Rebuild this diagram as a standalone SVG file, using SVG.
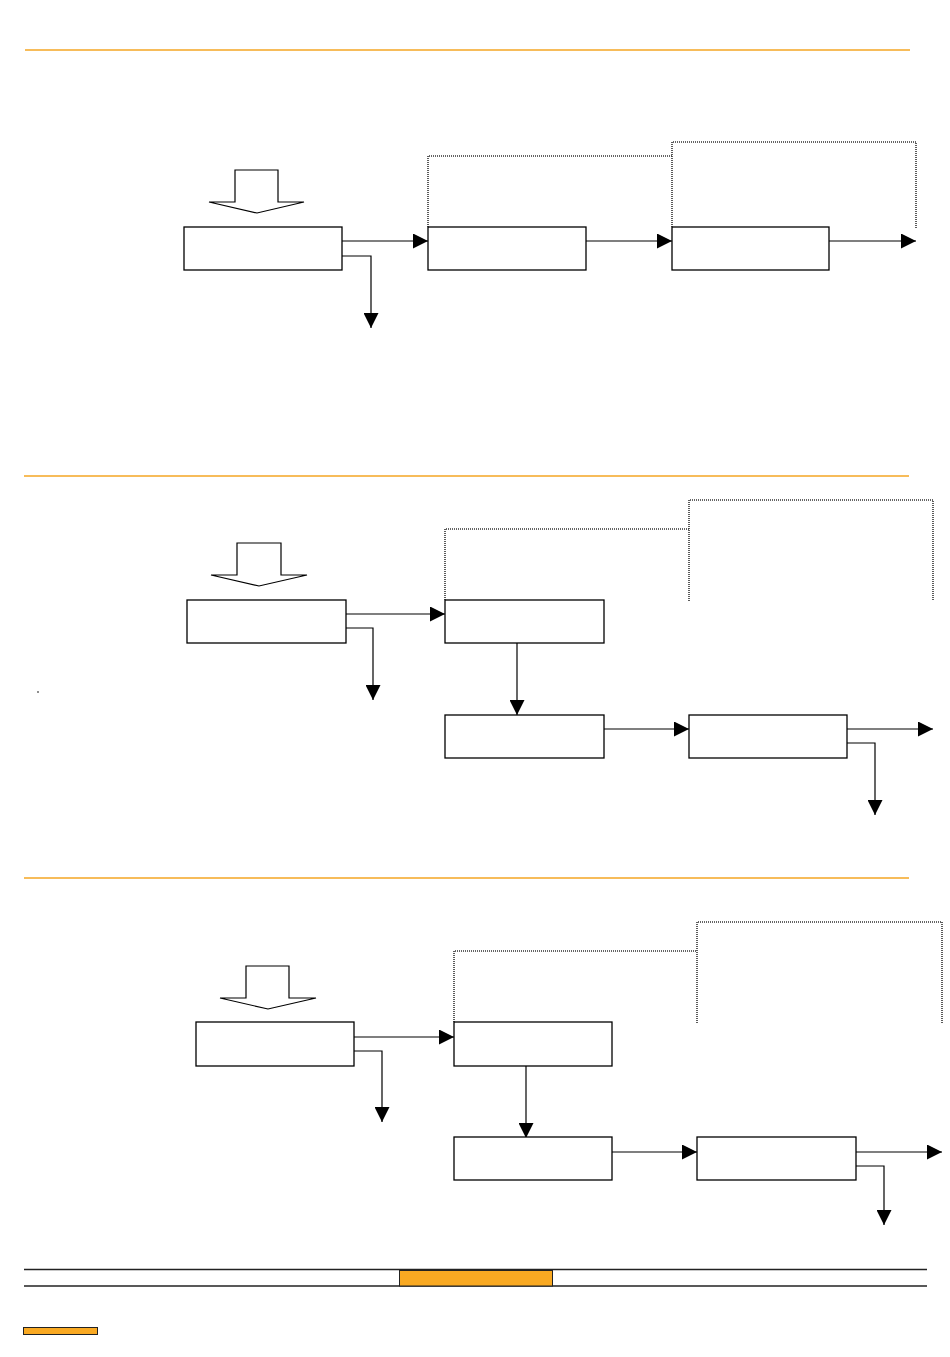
<svg xmlns="http://www.w3.org/2000/svg" width="950" height="1357" viewBox="0 0 950 1357">
<style>
.box{fill:#fff;stroke:#000;stroke-width:1.3}
.ln{fill:none;stroke:#000;stroke-width:1.2}
.dot{fill:none;stroke:#333;stroke-width:1.6;stroke-dasharray:1 1}
.orn{stroke:#F5A623;stroke-width:1.7}
.blk{fill:#fff;stroke:#000;stroke-width:1.2}
</style>
<defs>
<marker id="ah" viewBox="0 0 15 15" refX="15" refY="7.5" markerWidth="15" markerHeight="15" markerUnits="userSpaceOnUse" orient="auto">
<path d="M0,0 L15,7.5 L0,15 Z" fill="#000"/>
</marker>
</defs>
<rect width="950" height="1357" fill="#fff"/>
<g id="rules">
<line class="orn" x1="25" y1="50" x2="910" y2="50"/>
<line class="orn" x1="24" y1="476" x2="909" y2="476"/>
<line class="orn" x1="24" y1="878" x2="909" y2="878"/>
</g>
<g id="connectors">
<polyline class="dot" points="428,227 428,156 672,156"/>
<polyline class="dot" points="672,227 672,142 916,142 916,228"/>
<line class="ln" x1="342" y1="241" x2="428" y2="241" marker-end="url(#ah)"/>
<polyline class="ln" points="342,256 371,256 371,328" marker-end="url(#ah)"/>
<line class="ln" x1="586" y1="241" x2="672" y2="241" marker-end="url(#ah)"/>
<line class="ln" x1="829" y1="241" x2="916" y2="241" marker-end="url(#ah)"/>
<polyline class="dot" points="445,600 445,529 689,529"/>
<polyline class="dot" points="689,601 689,500 933,500 933,601"/>
<line class="ln" x1="346" y1="614" x2="445" y2="614" marker-end="url(#ah)"/>
<polyline class="ln" points="346,628 373,628 373,700" marker-end="url(#ah)"/>
<line class="ln" x1="517" y1="643" x2="517" y2="715" marker-end="url(#ah)"/>
<line class="ln" x1="604" y1="729" x2="689" y2="729" marker-end="url(#ah)"/>
<line class="ln" x1="847" y1="729" x2="933" y2="729" marker-end="url(#ah)"/>
<polyline class="ln" points="847,743 875,743 875,815" marker-end="url(#ah)"/>
<polyline class="dot" points="454,1022 454,951 697,951"/>
<polyline class="dot" points="697,1023 697,922 942,922 942,1023"/>
<line class="ln" x1="354" y1="1037" x2="454" y2="1037" marker-end="url(#ah)"/>
<polyline class="ln" points="354,1051 382,1051 382,1122" marker-end="url(#ah)"/>
<line class="ln" x1="526" y1="1066" x2="526" y2="1138" marker-end="url(#ah)"/>
<line class="ln" x1="612" y1="1152" x2="697" y2="1152" marker-end="url(#ah)"/>
<line class="ln" x1="856" y1="1152" x2="942" y2="1152" marker-end="url(#ah)"/>
<polyline class="ln" points="856,1166 884,1166 884,1225" marker-end="url(#ah)"/>
</g>
<g id="input1"><polygon class="blk" points="235,170 278,170 278,202 304,202 257,213 209,202 235,202"/></g>
<g id="input2"><polygon class="blk" points="237,543 281,543 281,575 307,575 259,586 211,575 237,575"/></g>
<g id="input3"><polygon class="blk" points="246,966 289,966 289,998 316,998 268,1009 220,998 246,998"/></g>
<g id="s1a"><rect class="box" x="184" y="227" width="158" height="43"/></g>
<g id="s1b"><rect class="box" x="428" y="227" width="158" height="43"/></g>
<g id="s1c"><rect class="box" x="672" y="227" width="157" height="43"/></g>
<g id="s2a"><rect class="box" x="187" y="600" width="159" height="43"/></g>
<g id="s2b"><rect class="box" x="445" y="600" width="159" height="43"/></g>
<g id="s2c"><rect class="box" x="445" y="715" width="159" height="43"/></g>
<g id="s2d"><rect class="box" x="689" y="715" width="158" height="43"/></g>
<g id="s3a"><rect class="box" x="196" y="1022" width="158" height="44"/></g>
<g id="s3b"><rect class="box" x="454" y="1022" width="158" height="44"/></g>
<g id="s3c"><rect class="box" x="454" y="1137" width="158" height="43"/></g>
<g id="s3d"><rect class="box" x="697" y="1137" width="159" height="43"/></g>
<circle cx="38" cy="692" r="0.8" fill="#000"/>
<g id="footer">
<line x1="24" y1="1269.5" x2="927" y2="1269.5" stroke="#222" stroke-width="1.3"/>
<line x1="24" y1="1286" x2="927" y2="1286" stroke="#222" stroke-width="1.3"/>
<rect x="399.5" y="1270" width="153" height="16" fill="#F9A922" stroke="#222" stroke-width="1"/>
<line x1="399" y1="1270" x2="553" y2="1270" stroke="#222" stroke-width="2"/>
<rect x="23.5" y="1327.5" width="74" height="7" fill="#F9A922" stroke="#222" stroke-width="1"/>
</g>
</svg>
